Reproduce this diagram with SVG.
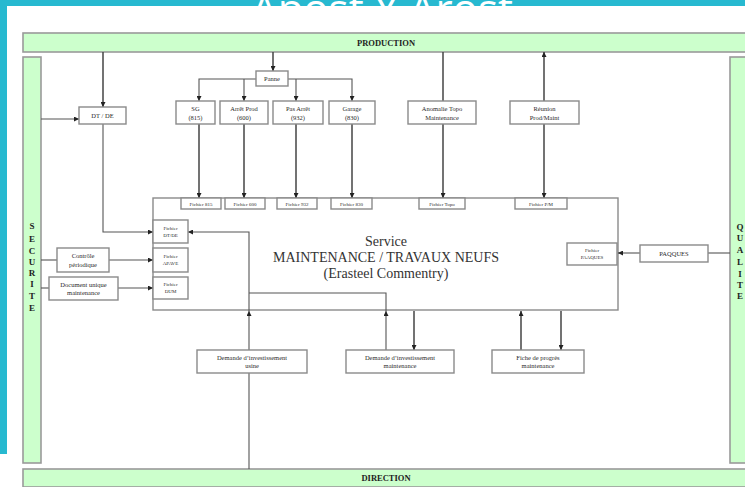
<svg xmlns="http://www.w3.org/2000/svg" width="745" height="487" viewBox="0 0 745 487">
  <defs>
    <style>
      .band { fill: #CCFFCC; stroke: #9a9a9a; stroke-width: 1.6; }
      .box { fill: #ffffff; stroke: #8a8a8a; stroke-width: 1.4; }
      .main { fill: none; stroke: #8a8a8a; stroke-width: 1.4; }
      .lbl { font-family: "Liberation Serif", "Times New Roman", serif; font-size: 6.5px; fill: #2a2a2a; text-anchor: middle; }
      .tiny { font-family: "Liberation Serif", "Times New Roman", serif; font-size: 5px; fill: #2a2a2a; text-anchor: middle; }
      .bandtxt { font-family: "Liberation Serif", "Times New Roman", serif; font-size: 8.5px; font-weight: bold; fill: #222; text-anchor: middle; }
      .vert { font-family: "Liberation Serif", "Times New Roman", serif; font-size: 9px; font-weight: bold; fill: #222; text-anchor: middle; }
      .title { font-family: "Liberation Serif", "Times New Roman", serif; font-size: 14px; fill: #333; text-anchor: middle; }
      .wire { fill: none; stroke: #555; stroke-width: 1.1; }
      .wire.heavy { stroke: #444; stroke-width: 1.5; }
    </style>
    <marker id="arr" viewBox="0 0 10 10" refX="10" refY="5" markerWidth="5" markerHeight="5" markerUnits="userSpaceOnUse" orient="auto">
      <path d="M0,0 L10,5 L0,10 z" fill="#222"/>
    </marker>
  </defs>

  <!-- slide frame -->
  <rect x="0" y="0" width="745" height="487" fill="#ffffff"/>
  <rect x="0" y="0" width="745" height="6" fill="#27B9D0"/>
  <rect x="0" y="0" width="7" height="454" fill="#27B9D0"/>
  <text x="382" y="24" font-family="Open Sans, sans-serif" font-size="42" fill="#ffffff" text-anchor="middle">Apost Y Arost</text>

  <!-- side bands -->
  <g id="production">
    <rect class="band" x="23" y="33" width="730" height="19"/>
    <text class="bandtxt" x="386" y="45.5">PRODUCTION</text>
  </g>
  <g id="direction">
    <rect class="band" x="23" y="469" width="730" height="18"/>
    <text class="bandtxt" x="386" y="481">DIRECTION</text>
  </g>
  <g id="securite">
    <rect class="band" x="23" y="57" width="18" height="406"/>
    <text class="vert" x="32" y="229">S</text>
    <text class="vert" x="32" y="242">E</text>
    <text class="vert" x="32" y="254">C</text>
    <text class="vert" x="32" y="265">U</text>
    <text class="vert" x="32" y="276">R</text>
    <text class="vert" x="32" y="287">I</text>
    <text class="vert" x="32" y="299">T</text>
    <text class="vert" x="32" y="311">E</text>
  </g>
  <g id="qualite">
    <rect class="band" x="730" y="57" width="20" height="406"/>
    <text class="vert" x="740" y="230">Q</text>
    <text class="vert" x="740" y="241">U</text>
    <text class="vert" x="740" y="253">A</text>
    <text class="vert" x="740" y="265">L</text>
    <text class="vert" x="740" y="277">I</text>
    <text class="vert" x="740" y="288">T</text>
    <text class="vert" x="740" y="299">E</text>
  </g>

  <!-- central service -->
  <g id="service">
    <rect class="main" x="153" y="198" width="465" height="112"/>
    <text class="title" x="386" y="246">Service</text>
    <text class="title" x="386" y="262">MAINTENANCE / TRAVAUX NEUFS</text>
    <text class="title" x="386" y="278">(Erasteel Commentry)</text>
  </g>

  <!-- connectors -->
  <g id="connectors">
    <path class="wire heavy" d="M103,52 V107" marker-end="url(#arr)"/>
    <path class="wire" d="M41,119 H79" marker-end="url(#arr)"/>
    <path class="wire" d="M103,124 V232 H153" marker-end="url(#arr)"/>
    <path class="wire heavy" d="M273,52 V71" marker-end="url(#arr)"/>
    <path class="wire" d="M256,79 H199 V101" marker-end="url(#arr)"/>
    <path class="wire" d="M244,79 V101" marker-end="url(#arr)"/>
    <path class="wire" d="M288,79 H352 V101" marker-end="url(#arr)"/>
    <path class="wire" d="M296,79 V101" marker-end="url(#arr)"/>
    <path class="wire heavy" d="M199,124 V198" marker-end="url(#arr)"/>
    <path class="wire heavy" d="M244,124 V198" marker-end="url(#arr)"/>
    <path class="wire heavy" d="M296,124 V198" marker-end="url(#arr)"/>
    <path class="wire heavy" d="M352,124 V198" marker-end="url(#arr)"/>
    <path class="wire heavy" d="M443,52 V101"/>
    <path class="wire heavy" d="M443,124 V198" marker-end="url(#arr)"/>
    <path class="wire heavy" d="M544,101 V52" marker-end="url(#arr)"/>
    <path class="wire heavy" d="M544,124 V198" marker-end="url(#arr)"/>
    <path class="wire" d="M730,253 H708"/>
    <path class="wire" d="M640,253 H618" marker-end="url(#arr)"/>
    <path class="wire" d="M41,260 H57"/>
    <path class="wire" d="M109,260 H153" marker-end="url(#arr)"/>
    <path class="wire" d="M41,288 H49"/>
    <path class="wire" d="M118,288 H153" marker-end="url(#arr)"/>
    <path class="wire" d="M249,469 V373"/>
    <path class="wire" d="M249,350 V311" marker-end="url(#arr)"/>
    <path class="wire" d="M249,311 V232 H188" marker-end="url(#arr)"/>
    <path class="wire" d="M386,350 V311" marker-end="url(#arr)"/>
    <path class="wire" d="M386,311 V293 H249"/>
    <path class="wire heavy" d="M414,311 V350" marker-end="url(#arr)"/>
    <path class="wire heavy" d="M521,350 V311" marker-end="url(#arr)"/>
    <path class="wire heavy" d="M561,311 V350" marker-end="url(#arr)"/>
  </g>

  <!-- nodes -->
  <g id="dt-de">
    <rect class="box" x="79" y="107" width="47" height="17"/>
    <text class="lbl" x="102.5" y="118">DT / DE</text>
  </g>
  <g id="panne">
    <rect class="box" x="256" y="71" width="32" height="15"/>
    <text class="lbl" x="272" y="81">Panne</text>
  </g>
  <g id="sg">
    <rect class="box" x="176" y="101" width="39" height="23"/>
    <text class="lbl" x="195.5" y="110.5">SG</text>
    <text class="lbl" x="195.5" y="119.5">(815)</text>
  </g>
  <g id="arret-prod">
    <rect class="box" x="220" y="101" width="48" height="23"/>
    <text class="lbl" x="244" y="110.5">Arrêt Prod</text>
    <text class="lbl" x="244" y="119.5">(600)</text>
  </g>
  <g id="pas-arret">
    <rect class="box" x="273" y="101" width="50" height="23"/>
    <text class="lbl" x="298" y="110.5">Pas Arrêt</text>
    <text class="lbl" x="298" y="119.5">(932)</text>
  </g>
  <g id="garage">
    <rect class="box" x="329" y="101" width="46" height="23"/>
    <text class="lbl" x="352" y="110.5">Garage</text>
    <text class="lbl" x="352" y="119.5">(830)</text>
  </g>
  <g id="anomalie-topo">
    <rect class="box" x="408" y="101" width="68" height="23"/>
    <text class="lbl" x="442" y="110.5">Anomalie Topo</text>
    <text class="lbl" x="442" y="119.5">Maintenance</text>
  </g>
  <g id="reunion">
    <rect class="box" x="510" y="101" width="69" height="23"/>
    <text class="lbl" x="544.5" y="110.5">Réunion</text>
    <text class="lbl" x="544.5" y="119.5">Prod/Maint</text>
  </g>

  <g id="fichier-815">
    <rect class="box" x="181" y="198" width="40" height="11"/>
    <text class="tiny" x="201" y="205.5">Fichier 815</text>
  </g>
  <g id="fichier-600">
    <rect class="box" x="225" y="198" width="40" height="11"/>
    <text class="tiny" x="245" y="205.5">Fichier 600</text>
  </g>
  <g id="fichier-932">
    <rect class="box" x="277" y="198" width="40" height="11"/>
    <text class="tiny" x="297" y="205.5">Fichier 932</text>
  </g>
  <g id="fichier-830">
    <rect class="box" x="331" y="198" width="41" height="11"/>
    <text class="tiny" x="351.5" y="205.5">Fichier 830</text>
  </g>
  <g id="fichier-topo">
    <rect class="box" x="419" y="198" width="46" height="11"/>
    <text class="tiny" x="442" y="205.5">Fichier Topo</text>
  </g>
  <g id="fichier-pm">
    <rect class="box" x="515" y="198" width="52" height="11"/>
    <text class="tiny" x="541" y="205.5">Fichier P/M</text>
  </g>

  <g id="fichier-dtde">
    <rect class="box" x="153" y="220" width="35" height="23"/>
    <text class="tiny" x="170.5" y="229.5">Fichier</text>
    <text class="tiny" x="170.5" y="236.5">DT/DE</text>
  </g>
  <g id="fichier-apave">
    <rect class="box" x="153" y="248" width="35" height="24"/>
    <text class="tiny" x="170.5" y="258">Fichier</text>
    <text class="tiny" x="170.5" y="265">APAVE</text>
  </g>
  <g id="fichier-dum">
    <rect class="box" x="153" y="277" width="35" height="22"/>
    <text class="tiny" x="170.5" y="286">Fichier</text>
    <text class="tiny" x="170.5" y="293">DUM</text>
  </g>
  <g id="fichier-paaques">
    <rect class="box" x="567" y="243" width="50" height="22"/>
    <text class="tiny" x="592" y="252">Fichier</text>
    <text class="tiny" x="592" y="259">PAAQUES</text>
  </g>
  <g id="paqques">
    <rect class="box" x="640" y="245" width="68" height="17"/>
    <text class="lbl" x="674" y="256">PAQQUES</text>
  </g>

  <g id="controle-periodique">
    <rect class="box" x="57" y="248" width="52" height="24"/>
    <text class="lbl" x="83" y="258">Contrôle</text>
    <text class="lbl" x="83" y="266.5">périodique</text>
  </g>
  <g id="document-unique">
    <rect class="box" x="49" y="277" width="69" height="23"/>
    <text class="lbl" x="83.5" y="286.5">Document unique</text>
    <text class="lbl" x="83.5" y="295">maintenance</text>
  </g>

  <g id="demande-usine">
    <rect class="box" x="197" y="350" width="110" height="23"/>
    <text class="lbl" x="252" y="359.5">Demande d’investissement</text>
    <text class="lbl" x="252" y="368">usine</text>
  </g>
  <g id="demande-maintenance">
    <rect class="box" x="346" y="350" width="108" height="23"/>
    <text class="lbl" x="400" y="359.5">Demande d’investissement</text>
    <text class="lbl" x="400" y="368">maintenance</text>
  </g>
  <g id="fiche-progres">
    <rect class="box" x="492" y="350" width="92" height="23"/>
    <text class="lbl" x="538" y="359.5">Fiche de progrès</text>
    <text class="lbl" x="538" y="368">maintenance</text>
  </g>
</svg>
